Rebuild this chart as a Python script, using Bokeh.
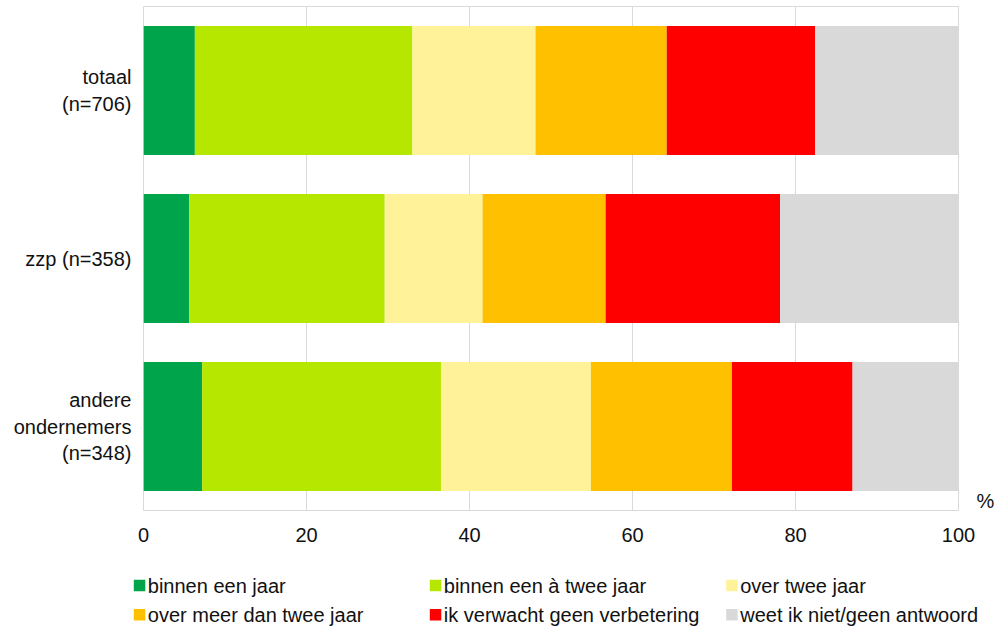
from bokeh.plotting import figure
from bokeh.models import ColumnDataSource, Range1d, FixedTicker, LinearAxis
from bokeh.embed import file_html
from bokeh.resources import INLINE
from bokeh.core.properties import value

# ---- data ----
groups = ["totaal\n(n=706)", "zzp (n=358)", "andere\nondernemers\n(n=348)"]
series = ["binnen een jaar", "binnen een à twee jaar", "over twee jaar",
          "over meer dan twee jaar", "ik verwacht geen verbetering",
          "weet ik niet/geen antwoord"]
colors = ["#00a44a", "#b5e700", "#fff299", "#ffc000", "#ff0000", "#d9d9d9"]

binnen_een_jaar = [6.3, 5.6, 7.2]
binnen_een_a_twee_jaar = [26.7, 24.0, 29.3]
over_twee_jaar = [15.1, 12.0, 18.4]
over_meer_dan_twee_jaar = [16.1, 15.1, 17.3]
geen_verbetering = [18.2, 21.4, 14.8]
weet_niet = [17.6, 21.9, 13.0]

x_ticks = [0, 20, 40, 60, 80, 100]
unit_label = "%"

FONT = "Liberation Sans"
FS = "20px"
TXT = "#111111"

values = [binnen_een_jaar, binnen_een_a_twee_jaar, over_twee_jaar,
          over_meer_dan_twee_jaar, geen_verbetering, weet_niet]
n = len(groups)
ypos = [n - 1 - i for i in range(n)]          # first group on top
keys = ["s%d" % i for i in range(len(series))]
data = {"y": ypos}
for k, v in zip(keys, values):
    data[k] = v
source = ColumnDataSource(data)

# ---------------- main chart ----------------
p = figure(width=1000, height=552, output_backend="svg", toolbar_location=None,
           y_range=Range1d(-0.5, n - 0.5), x_range=Range1d(0, 100),
           y_axis_type=None,
           min_border_left=143, min_border_right=42, min_border_top=6,
           min_border_bottom=42)
renderers = p.hbar_stack(keys, y="y", height=0.768, color=colors,
                         line_color=None, source=source)

p.outline_line_color = "#d9d9d9"
p.outline_line_width = 1
p.background_fill_color = "white"
p.border_fill_color = "white"

p.ygrid.visible = False
p.xgrid.grid_line_color = "#d9d9d9"
p.xgrid.grid_line_width = 1
p.xaxis.ticker = FixedTicker(ticks=x_ticks)
p.xaxis.minor_tick_line_color = None

# category axis on the left
cat_axis = LinearAxis(ticker=FixedTicker(ticks=ypos),
                      major_label_overrides={y: g for y, g in zip(ypos, groups)})
p.add_layout(cat_axis, "left")

# unit label on the right, as a single-tick axis near the bottom of the frame
p.extra_y_ranges = {"unit": Range1d(0, 504)}
unit_axis = LinearAxis(y_range_name="unit", ticker=FixedTicker(ticks=[10]),
                       major_label_overrides={10: unit_label})
p.add_layout(unit_axis, "right")

for ax in (p.xaxis[0], cat_axis, unit_axis):
    ax.axis_line_color = None
    ax.major_tick_line_color = None
    ax.minor_tick_line_color = None
    ax.major_tick_out = 0
    ax.major_tick_in = 0
    ax.major_label_text_font = FONT
    ax.major_label_text_font_size = FS
    ax.major_label_text_color = TXT
p.xaxis.major_label_standoff = 17
cat_axis.major_label_standoff = 12
unit_axis.major_label_standoff = 18

# ---------------- legend (separate root, pixel coordinates) ----------------
LW, LH = 1000, 74
lg = figure(width=LW, height=LH, output_backend="svg", toolbar_location=None,
            x_range=Range1d(0, LW), y_range=Range1d(LH, 0),
            x_axis_location=None, y_axis_location=None,
            min_border=0, min_border_left=0, min_border_right=0,
            min_border_top=0, min_border_bottom=0)
lg.outline_line_color = None
lg.grid.visible = False
lg.background_fill_color = "white"
lg.border_fill_color = "white"

col_left = [133.3, 429.3, 725.7]
row_mid = [33.0, 62.3]
SQ = 11.5
sx, sy, tx, tt, cc = [], [], [], [], []
for i, (name, c) in enumerate(zip(series, colors)):
    r, k = divmod(i, 3)
    sx.append(col_left[k] + SQ / 2)
    sy.append(row_mid[r])
    tx.append(col_left[k] + 14)
    tt.append(name)
    cc.append(c)
lsrc = ColumnDataSource(dict(sx=sx, sy=sy, tx=tx, t=tt, c=cc))
lg.rect(x="sx", y="sy", width=SQ, height=SQ, fill_color="c", line_color=None,
        source=lsrc)
lg.text(x="tx", y="sy", text="t", source=lsrc, text_font=value(FONT),
        text_font_size=FS, text_baseline="middle", text_align="left",
        text_color=TXT)

open("out.html", "w").write(file_html([p, lg], INLINE))
